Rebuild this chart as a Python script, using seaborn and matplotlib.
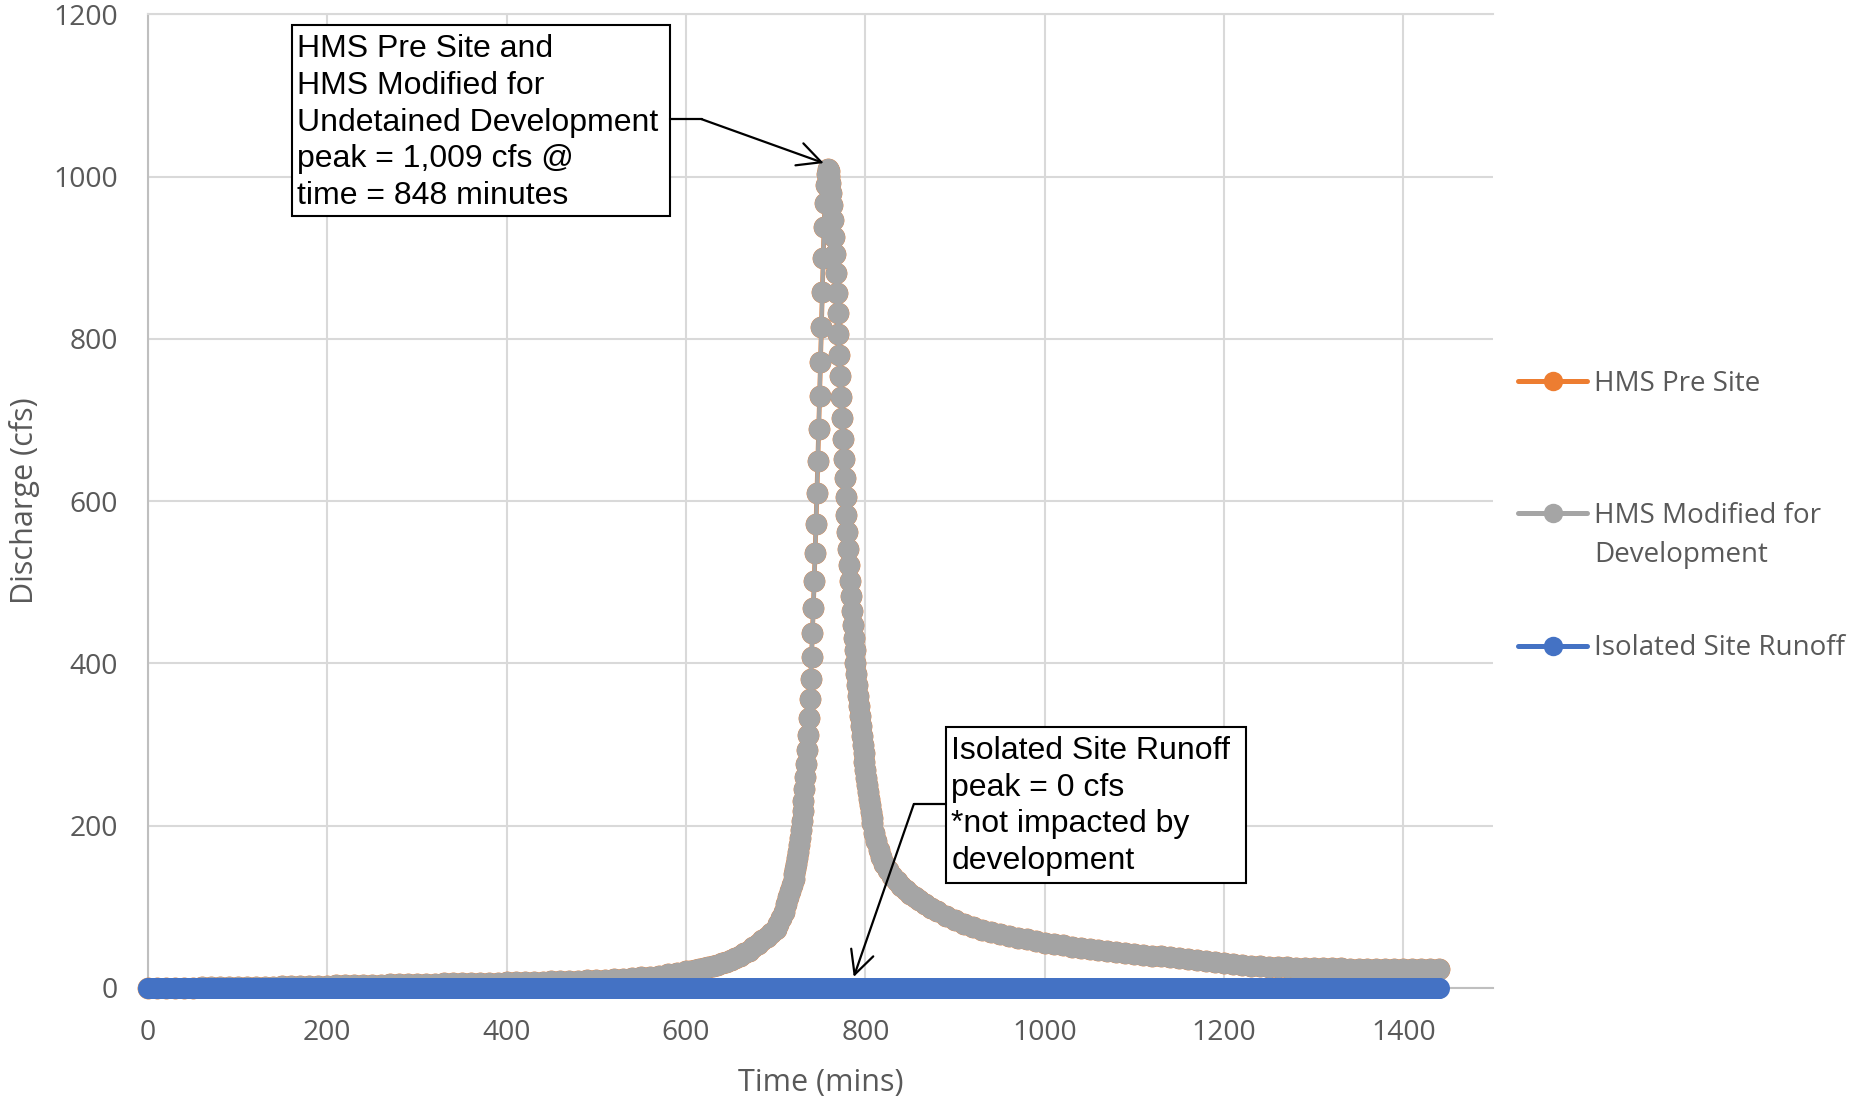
import matplotlib
matplotlib.use("Agg")
import matplotlib.pyplot as plt
from matplotlib.lines import Line2D
from matplotlib.patches import Rectangle
import pandas as pd
import seaborn as sns

# Hydrograph time stamps (minutes) and discharges (cfs)
time_min = [
    0, 10, 20, 30, 40, 50, 60, 70, 80, 90,
    100, 110, 120, 130, 140, 150, 160, 170, 180, 190,
    200, 210, 220, 230, 240, 250, 260, 270, 280, 290,
    300, 310, 320, 330, 340, 350, 360, 370, 380, 390,
    400, 410, 420, 430, 440, 450, 460, 470, 480, 490,
    500, 510, 520, 530, 540, 550, 560, 570, 580, 590,
    600, 605, 610, 615, 620, 625, 630, 635, 640, 645,
    650, 655, 660, 665, 670, 675, 680, 685, 690, 695,
    700, 703, 706, 709, 712, 714, 716, 718,
    720, 721, 722, 723, 724, 725, 726, 727, 728, 729,
    730, 731, 732, 733, 734, 735, 736, 737, 738, 739,
    740, 741, 742, 743, 744, 745, 746, 747, 748, 749,
    750, 751, 752, 753, 754, 755, 756, 757, 758, 759,
    760, 761, 762, 763, 764, 765, 766, 767, 768, 769,
    770, 771, 772, 773, 774, 775, 776, 777, 778, 779,
    780, 781, 782, 783, 784, 785, 786, 787, 788, 789,
    790, 791, 792, 793, 794, 795, 796, 797, 798, 799,
    800, 801, 802, 803, 804, 805, 806, 807, 808,
    810, 812, 815, 818, 821, 825, 830, 835, 840, 845,
    850, 855, 860, 866, 873, 880, 890, 900, 910,
    920, 930, 940, 950, 960, 970, 980, 990,
    1000, 1010, 1020, 1030, 1040, 1050, 1060, 1070, 1080, 1090,
    1100, 1110, 1120, 1130, 1140, 1150, 1160, 1170, 1180, 1190,
    1200, 1210, 1220, 1230, 1240, 1250, 1260, 1270, 1280, 1290,
    1300, 1310, 1320, 1330, 1340, 1350, 1360, 1370, 1380, 1390,
    1400, 1410, 1420, 1430, 1440,
]

pre_site_cfs = [
    0.0, 0.1, 0.2, 0.3, 0.4, 0.5, 0.6, 0.7, 0.8, 0.9,
    1.0, 1.2, 1.3, 1.5, 1.7, 1.9, 2.1, 2.3, 2.5, 2.7,
    2.9, 3.1, 3.3, 3.5, 3.7, 3.9, 4.1, 4.3, 4.5, 4.7,
    4.9, 5.1, 5.3, 5.5, 5.7, 5.9, 6.1, 6.3, 6.5, 6.7,
    6.9, 7.1, 7.3, 7.5, 7.8, 8.1, 8.4, 8.7, 9.0, 9.4,
    9.8, 10.3, 10.9, 11.5, 12.2, 13.0, 14.0, 15.2, 16.6, 18.3,
    20.3, 21.4, 22.5, 23.6, 24.8, 26.0, 27.3, 28.7, 30.2, 32.0,
    35.0, 37.4, 40.0, 43.0, 46.0, 50.0, 54.0, 58.5, 63.0, 68.0,
    73, 79, 86, 94, 104, 112, 120, 127,
    134, 140, 146, 153, 160, 168, 176, 185, 195, 206,
    218, 231, 245, 260, 276, 293, 312, 333, 356, 381,
    408, 437, 468, 501, 536, 572, 610, 649, 689, 730,
    772, 815, 858, 900, 938, 968, 990, 1003, 1009, 1007,
    1001, 992, 980, 965, 947, 926, 904, 881, 857, 832,
    806, 780, 754, 728, 702, 677, 652, 628, 605, 583,
    562, 541, 521, 502, 483, 465, 447, 431, 416, 401,
    387, 373, 360, 347, 335, 323, 311, 300, 289, 279,
    269, 259, 250, 241, 233, 225, 217, 210, 203,
    191, 181, 170, 161, 153, 145, 138, 132, 126, 121,
    116, 112, 108, 104, 99, 95, 89, 84, 79,
    75, 72, 69, 66, 64, 62, 60, 58,
    56, 54, 52.5, 51, 49.5, 48, 46.5, 45, 44, 43,
    42, 41, 40, 39, 37.8, 36.6, 35.4, 34, 32.8, 31.6,
    30.4, 29.3, 28.3, 27.4, 26.6, 26, 25.6, 25.3, 25, 24.8,
    24.6, 24.4, 24.2, 24, 23.9, 23.8, 23.7, 23.6, 23.5, 23.4,
    23.3, 23.2, 23.1, 23.0, 23.0,
]

# The modified-for-development run reproduces the pre-site hydrograph
modified_cfs = list(pre_site_cfs)

# Isolated site contributes no runoff over the whole day (1-minute steps)
isolated_time_min = list(range(0, 1441))
isolated_cfs = [0.0] * len(isolated_time_min)

series_labels = ["HMS Pre Site", "HMS Modified for", "Isolated Site Runoff"]
series_colors = ["#ED7D31", "#A5A5A5", "#4472C4"]

x_ticks = [0, 200, 400, 600, 800, 1000, 1200, 1400]
y_ticks = [0, 200, 400, 600, 800, 1000, 1200]

sns.set_theme(style="white")
plt.rcParams["font.family"] = ["Open Sans", "DejaVu Sans"]

W, H = 1854, 1097
fig = plt.figure(figsize=(W / 100, H / 100), dpi=100)
ax = fig.add_axes([0.0798, 0.0994, 0.7255, 0.8876])

hms = pd.DataFrame({"time": time_min, "pre": pre_site_cfs, "mod": modified_cfs})
iso = pd.DataFrame({"time": isolated_time_min, "iso": isolated_cfs})

line_kw = dict(marker="o", markeredgewidth=0, legend=False, clip_on=False,
               sort=False, estimator=None)
sns.lineplot(data=hms, x="time", y="pre", ax=ax, color=series_colors[0],
             markersize=15.7, linewidth=3.4, zorder=3, **line_kw)
sns.lineplot(data=hms, x="time", y="mod", ax=ax, color=series_colors[1],
             markersize=15.4, linewidth=3.0, zorder=4, **line_kw)
sns.lineplot(data=iso, x="time", y="iso", ax=ax, color=series_colors[2],
             markersize=15.1, linewidth=3.0, zorder=5, **line_kw)

ax.set_xlim(0, 1500)
ax.set_ylim(0, 1200)
ax.set_xticks(x_ticks)
ax.set_yticks(y_ticks)
ax.set_xlabel("")
ax.set_ylabel("")
ax.tick_params(axis="both", length=0, labelsize=20.3, labelcolor="#595959")
ax.tick_params(axis="x", pad=22.5)
ax.tick_params(axis="y", pad=21.5)

ax.set_axisbelow(True)
ax.grid(True, color="#D9D9D9", linewidth=1.5)
ax.spines["right"].set_visible(False)
ax.spines["top"].set_color("#D9D9D9")
ax.spines["top"].set_linewidth(1.5)
ax.spines["left"].set_color("#BFBFBF")
ax.spines["left"].set_linewidth(1.5)
ax.spines["bottom"].set_color("#BFBFBF")
ax.spines["bottom"].set_linewidth(1.5)

fig.text(24.5 / W, 1 - 501 / H, "Discharge (cfs)", rotation=90, ha="center",
         va="center", fontsize=22, color="#595959")
fig.text(821 / W, 1 - 1083 / H, "Time (mins)", ha="center", va="center",
         fontsize=22, color="#595959")

# Legend on the right
handles = [Line2D([], [], color=c, linewidth=3.6, marker="o", markersize=14,
                  markeredgewidth=0) for c in series_colors]
leg = fig.legend(handles, series_labels, loc="upper left",
                 bbox_to_anchor=(1518 / W, 1 - 370 / H), frameon=False,
                 borderpad=0, borderaxespad=0, handlelength=2.5,
                 handletextpad=0.25, labelspacing=3.75, fontsize=20,
                 labelcolor="#595959")
fig.canvas.draw()
tb = leg.get_texts()[1].get_window_extent()
fig.text(tb.x0 / W, (tb.y0 - 39) / H, "Development", ha="left", va="bottom",
         fontsize=20, color="#595959")

# Callout boxes with leader arrows
note_font = dict(family=["Liberation Sans", "DejaVu Sans"], fontsize=23,
                 color="black", linespacing=1.30)
arrow_kw = dict(arrowstyle="->", color="black", linewidth=1.6,
                mutation_scale=42, shrinkA=0, shrinkB=0)

ax.add_patch(Rectangle((160.8, 951.3), 581.7 - 160.8, 1186.7 - 951.3,
                       facecolor="white", edgecolor="black", linewidth=1.5,
                       zorder=6, clip_on=False))
ax.text(166.3, 1176.0,
        "HMS Pre Site and\nHMS Modified for\nUndetained Development\n"
        "peak = 1,009 cfs @\ntime = 848 minutes",
        ha="left", va="top", zorder=7, **note_font)
ax.plot([581.7, 617.4], [1070.7, 1070.7], color="black", linewidth=1.6,
        zorder=6, clip_on=False)
ax.annotate("", xy=(753.6, 1016.6), xytext=(617.4, 1070.7),
            arrowprops=arrow_kw, zorder=8)

ax.add_patch(Rectangle((889.8, 129.4), 1224.7 - 889.8, 321.6 - 129.4,
                       facecolor="white", edgecolor="black", linewidth=1.5,
                       zorder=6, clip_on=False))
ax.text(896.1, 310.9,
        "Isolated Site Runoff\npeak = 0 cfs\n*not impacted by\ndevelopment",
        ha="left", va="top", zorder=7, **note_font)
ax.plot([889.8, 854.1], [226.7, 226.7], color="black", linewidth=1.6,
        zorder=6, clip_on=False)
ax.annotate("", xy=(787.1, 13.6), xytext=(854.1, 226.7),
            arrowprops=arrow_kw, zorder=8)

fig.savefig("out.png", dpi=100, facecolor="white")
